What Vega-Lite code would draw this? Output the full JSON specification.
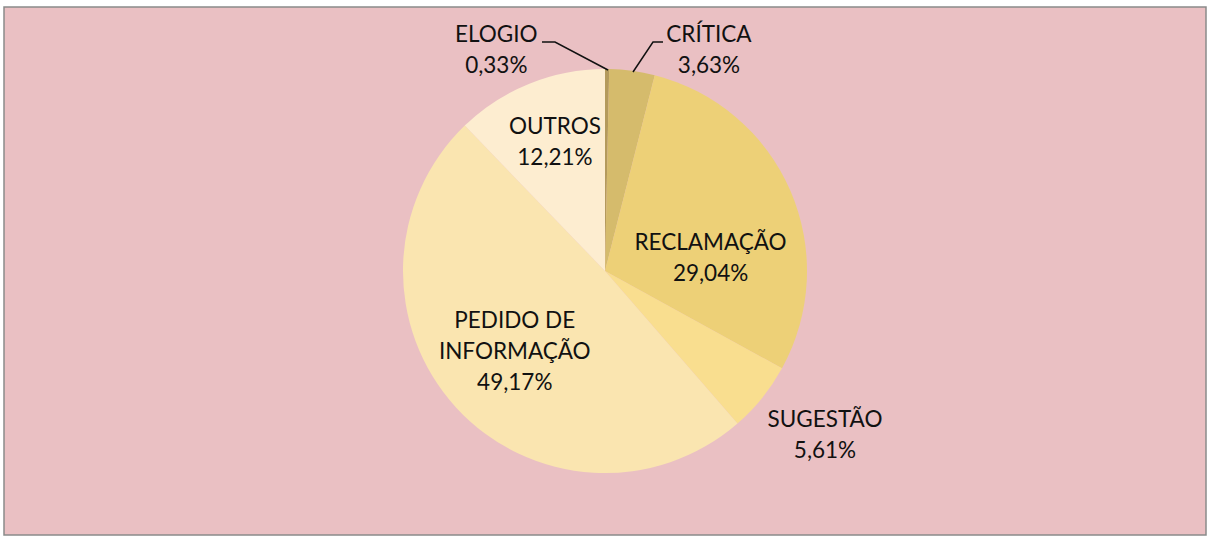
{
  "$schema": "https://vega.github.io/schema/vega-lite/v6.json",
  "autosize": {"type": "none"},
  "width": 1202,
  "height": 528,
  "padding": {"left": 4, "top": 7, "right": 2, "bottom": 2},
  "background": "white",
  "config": {
    "view": {"fill": "#eac0c3", "stroke": "#8a8a8a", "strokeWidth": 1.5},
    "text": {"font": "Lato", "fontSize": 22.5, "color": "#111111", "lineHeight": 31, "lineBreak": "|", "align": "center", "baseline": "middle"}
  },
  "data": {
    "values": [
      {"categoria": "ELOGIO", "valor": 0.33, "rotulo": "0,33%", "ordem": 1},
      {"categoria": "CRÍTICA", "valor": 3.63, "rotulo": "3,63%", "ordem": 2},
      {"categoria": "RECLAMAÇÃO", "valor": 29.04, "rotulo": "29,04%", "ordem": 3},
      {"categoria": "SUGESTÃO", "valor": 5.61, "rotulo": "5,61%", "ordem": 4},
      {"categoria": "PEDIDO DE INFORMAÇÃO", "valor": 49.17, "rotulo": "49,17%", "ordem": 5},
      {"categoria": "OUTROS", "valor": 12.21, "rotulo": "12,21%", "ordem": 6}
    ]
  },
  "transform": [
    {"calculate": "datum.categoria == 'PEDIDO DE INFORMAÇÃO' ? 'PEDIDO DE|INFORMAÇÃO|' + datum.rotulo : datum.categoria + '|' + datum.rotulo", "as": "txt"}
  ],
  "encoding": {
    "theta": {"field": "valor", "type": "quantitative", "stack": true},
    "order": {"field": "ordem", "type": "quantitative"}
  },
  "layer": [
    {
      "mark": {"type": "arc", "outerRadius": 202, "stroke": null},
      "encoding": {
        "color": {
          "field": "categoria",
          "type": "nominal",
          "legend": null,
          "scale": {
            "domain": ["ELOGIO", "CRÍTICA", "RECLAMAÇÃO", "SUGESTÃO", "PEDIDO DE INFORMAÇÃO", "OUTROS"],
            "range": ["#b49a5c", "#d5bb6c", "#edd077", "#f9de8f", "#fae5b0", "#fdedd0"]
          }
        }
      }
    },
    {
      "mark": {"type": "text", "radius": 221, "dx": -111, "dy": -15.5},
      "encoding": {"text": {"condition": {"test": "datum.categoria == 'ELOGIO'", "field": "txt"}, "value": ""}}
    },
    {
      "mark": {"type": "text", "radius": 223, "dx": 74, "dy": -15.5},
      "encoding": {"text": {"condition": {"test": "datum.categoria == 'CRÍTICA'", "field": "txt"}, "value": ""}}
    },
    {
      "mark": {"type": "text", "radius": 102, "dx": 12, "dy": 12.5},
      "encoding": {"text": {"condition": {"test": "datum.categoria == 'RECLAMAÇÃO'", "field": "txt"}, "value": ""}}
    },
    {
      "mark": {"type": "text", "radius": 275, "dx": 6, "dy": -23.5},
      "encoding": {"text": {"condition": {"test": "datum.categoria == 'SUGESTÃO'", "field": "txt"}, "value": ""}}
    },
    {
      "mark": {"type": "text", "radius": 121, "dx": -1, "dy": -32},
      "encoding": {"text": {"condition": {"test": "datum.categoria == 'PEDIDO DE INFORMAÇÃO'", "field": "txt"}, "value": ""}}
    },
    {
      "mark": {"type": "text", "radius": 139, "dx": 2, "dy": -15.5},
      "encoding": {"text": {"condition": {"test": "datum.categoria == 'OUTROS'", "field": "txt"}, "value": ""}}
    },
    {
      "data": {
        "values": [
          {"guia": "ELOGIO", "px": -63, "py": 229},
          {"guia": "ELOGIO", "px": -50, "py": 229},
          {"guia": "ELOGIO", "px": 3, "py": 201},
          {"guia": "CRÍTICA", "px": 58, "py": 229},
          {"guia": "CRÍTICA", "px": 48, "py": 229},
          {"guia": "CRÍTICA", "px": 28, "py": 199}
        ]
      },
      "transform": [],
      "mark": {"type": "line", "color": "#111111", "strokeWidth": 1.5},
      "encoding": {
        "theta": null,
        "order": null,
        "x": {"field": "px", "type": "quantitative", "axis": null, "scale": {"domain": [-601, 601], "nice": false, "zero": false}},
        "y": {"field": "py", "type": "quantitative", "axis": null, "scale": {"domain": [-264, 264], "nice": false, "zero": false}},
        "detail": {"field": "guia", "type": "nominal"}
      }
    }
  ]
}
